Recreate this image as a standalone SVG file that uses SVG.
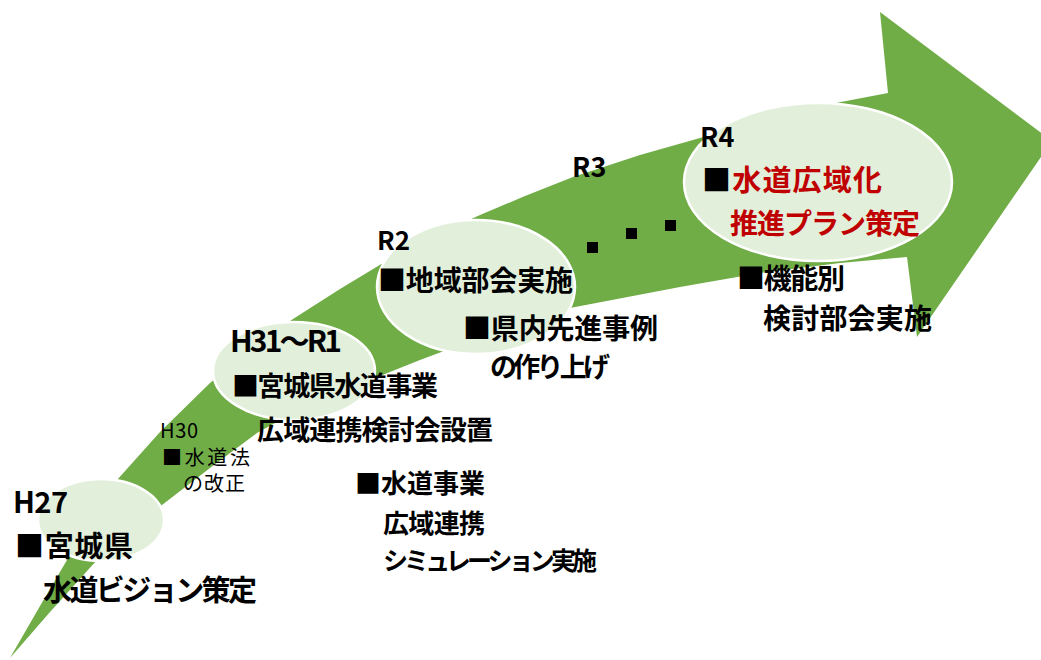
<svg xmlns="http://www.w3.org/2000/svg" width="1041" height="660" viewBox="0 0 1041 660">
<style>
.bg{fill:#ffffff}
.arrow{fill:#70AD47}
.node{fill:#E2EFDA;stroke:#ffffff;stroke-width:2.5}
text{font-family:"Noto Sans CJK JP","Noto Sans",sans-serif;fill:#000000;font-weight:700}
.reg{font-weight:400}
.red{fill:#C00000}
.dot{fill:#000000}
</style>
<rect class="bg" x="0" y="0" width="1041" height="660"/>
<g id="connectors">
<path id="big-arrow" class="arrow" d="M10,658 L40,606 L67,560 L92,518 L117,480 L160,432 L210,383 L250,350 L293,319 L340,289 L383,263 L430,238 L480,215 L525,196 L573,177 L640,155 L700,138 L760,122 L820,106 L888,93 L880,12 L1052,141 L917,337 L907,257 L840,263 L760,273 L680,287 L570,308 L500,331 L460,345 L420,360 L340,392 L295,412 L257,433 L210,468 L162,505 L130,532 L97,560 L50,612 Z"/>
</g>
<g id="node-h27">
<ellipse class="node" cx="101" cy="520" rx="63" ry="41"/>
<text x="13" y="513" font-size="29" textLength="55">H27</text>
<text x="15" y="557" font-size="29" textLength="118">■宮城県</text>
<text x="43" y="601" font-size="29" textLength="214">水道ビジョン策定</text>
</g>
<g id="node-h30">
<text class="reg" x="160" y="438" font-size="20" textLength="38">H30</text>
<text class="reg" x="162" y="465" font-size="20" textLength="88">■水道法</text>
<text class="reg" x="183" y="491" font-size="20" textLength="62">の改正</text>
</g>
<g id="node-h31">
<ellipse class="node" cx="294" cy="371" rx="81" ry="49"/>
<text x="230" y="352" font-size="30" textLength="112">H31～R1</text>
<text x="232" y="396" font-size="27" textLength="206">■宮城県水道事業</text>
<text x="257" y="440" font-size="27" textLength="236">広域連携検討会設置</text>
</g>
<g id="node-sim">
<text x="355" y="493" font-size="26" textLength="130">■水道事業</text>
<text x="383" y="533" font-size="26" textLength="102">広域連携</text>
<text x="383" y="570" font-size="25" textLength="214">シミュレーション実施</text>
</g>
<g id="node-r2">
<ellipse class="node" cx="476" cy="287" rx="99" ry="67"/>
<text x="377" y="250" font-size="26">R2</text>
<text x="378" y="291" font-size="28" textLength="195">■地域部会実施</text>
<text x="463" y="339" font-size="28" textLength="195">■県内先進事例</text>
<text x="490" y="377" font-size="27" textLength="120">の作り上げ</text>
</g>
<g id="node-r3">
<text x="572" y="177" font-size="27">R3</text>
<rect class="dot" x="587" y="242" width="11" height="11"/>
<rect class="dot" x="626" y="228" width="11" height="11"/>
<rect class="dot" x="665" y="220" width="11" height="11"/>
</g>
<g id="node-r4">
<ellipse class="node" cx="818" cy="182" rx="134" ry="79"/>
<text x="700" y="147" font-size="27">R4</text>
<text x="702" y="191" font-size="29" textLength="180">■<tspan class="red">水道広域化</tspan></text>
<text class="red" x="730" y="234" font-size="28" textLength="190">推進プラン策定</text>
<text x="737" y="289" font-size="28" textLength="108">■機能別</text>
<text x="763" y="329" font-size="28" textLength="169">検討部会実施</text>
</g>
</svg>
